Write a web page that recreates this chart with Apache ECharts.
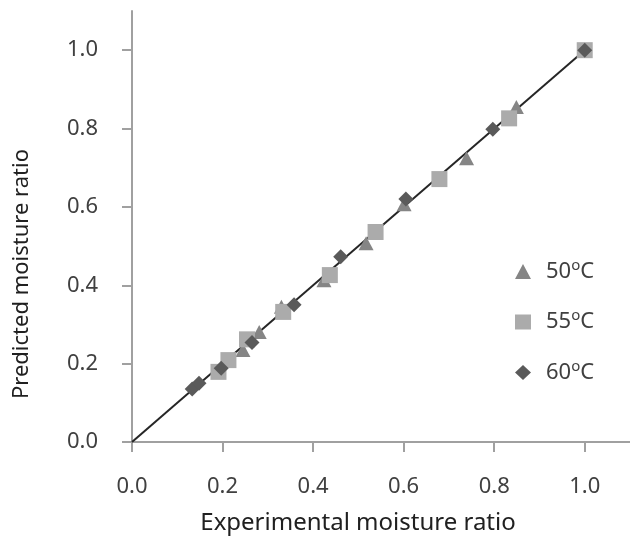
<!DOCTYPE html>
<html>
<head>
<meta charset="utf-8">
<script src="https://cdn.jsdelivr.net/npm/echarts@6/dist/echarts.min.js"></script>
<style>html,body{margin:0;padding:0;background:#fff;}#chart{width:630px;height:546px;}</style>
</head>
<body>
<div id="chart"></div>
<script>
// Tick values
var tickValues = [0.0, 0.2, 0.4, 0.6, 0.8, 1.0];
// Series names
var seriesNames = ['50{s|o}C', '55{s|o}C', '60{s|o}C'];
// 50 °C (experimental, predicted)
var x50 = [0.245, 0.281, 0.330, 0.424, 0.517, 0.601, 0.739, 0.849];
var y50 = [0.235, 0.281, 0.345, 0.413, 0.507, 0.607, 0.724, 0.855];
// 55 °C
var x55 = [0.191, 0.213, 0.254, 0.334, 0.437, 0.538, 0.679, 0.833, 1.000];
var y55 = [0.179, 0.209, 0.262, 0.332, 0.426, 0.536, 0.671, 0.826, 1.000];
// 60 °C
var x60 = [0.133, 0.148, 0.197, 0.265, 0.358, 0.461, 0.605, 0.797, 1.000];
var y60 = [0.135, 0.150, 0.188, 0.254, 0.350, 0.473, 0.620, 0.798, 1.000];
// 1:1 line
var lineX = [0, 1];
var lineY = [0, 1];

function zip(a, b) { return a.map(function (v, i) { return [v, b[i]]; }); }

var FONT = 'Noto Sans';
var chart = echarts.init(document.getElementById('chart'));
var axisCommon = {
  type: 'value', min: 0, max: 1.1, interval: 0.2,
  splitLine: { show: false },
  axisLine: { show: true, lineStyle: { color: '#a0a0a0', width: 2 } },
  axisTick: { show: true, length: 10, lineStyle: { color: '#a0a0a0', width: 2 }, customValues: tickValues },
  axisLabel: { customValues: tickValues, margin: 34, color: '#404040', fontSize: 22, fontFamily: FONT,
    formatter: function (v) { return v.toFixed(1); } }
};
chart.setOption({
  animation: false,
  backgroundColor: '#ffffff',
  grid: { left: 132, top: 11, width: 507, height: 431 },
  xAxis: echarts.util.merge({ axisLabel: { margin: 34 } }, axisCommon, false),
  yAxis: axisCommon,
  legend: {
    orient: 'vertical', left: 510, top: 253, itemGap: 26,
    itemWidth: 16, itemHeight: 15,
    data: [
      { name: seriesNames[0], icon: 'triangle' },
      { name: seriesNames[1], icon: 'rect' },
      { name: seriesNames[2], icon: 'diamond' }
    ],
    textStyle: { color: '#404040', fontSize: 22, fontFamily: FONT, padding: [0, 0, 0, 10],
      rich: { s: { fontSize: 15, fontFamily: FONT, color: '#404040', verticalAlign: 'top', padding: [0, 0, 12, 0] } } }
  },
  graphic: [
    { type: 'text', x: 358, y: 523, style: { text: 'Experimental moisture ratio', x: 0, y: 0, align: 'center', verticalAlign: 'middle', fill: '#202020', fontSize: 24, fontFamily: FONT } },
    { type: 'text', rotation: Math.PI / 2, x: 22, y: 274, style: { text: 'Predicted moisture ratio', x: 0, y: 0, align: 'center', verticalAlign: 'middle', fill: '#202020', fontSize: 22, fontFamily: FONT } }
  ],
  series: [
    { type: 'line', data: zip(lineX, lineY), symbol: 'none', silent: true, z: 1,
      lineStyle: { color: '#262626', width: 2 } },
    { name: seriesNames[0], type: 'scatter', data: zip(x50, y50), symbol: 'triangle', symbolSize: [15, 14], z: 2,
      itemStyle: { color: '#858585', opacity: 1 } },
    { name: seriesNames[1], type: 'scatter', data: zip(x55, y55), symbol: 'rect', symbolSize: 16, z: 3,
      itemStyle: { color: '#ababab', opacity: 1 } },
    { name: seriesNames[2], type: 'scatter', data: zip(x60, y60), symbol: 'diamond', symbolSize: 15, z: 4,
      itemStyle: { color: '#5a5a5a', opacity: 1 } }
  ]
});
</script>
</body>
</html>
